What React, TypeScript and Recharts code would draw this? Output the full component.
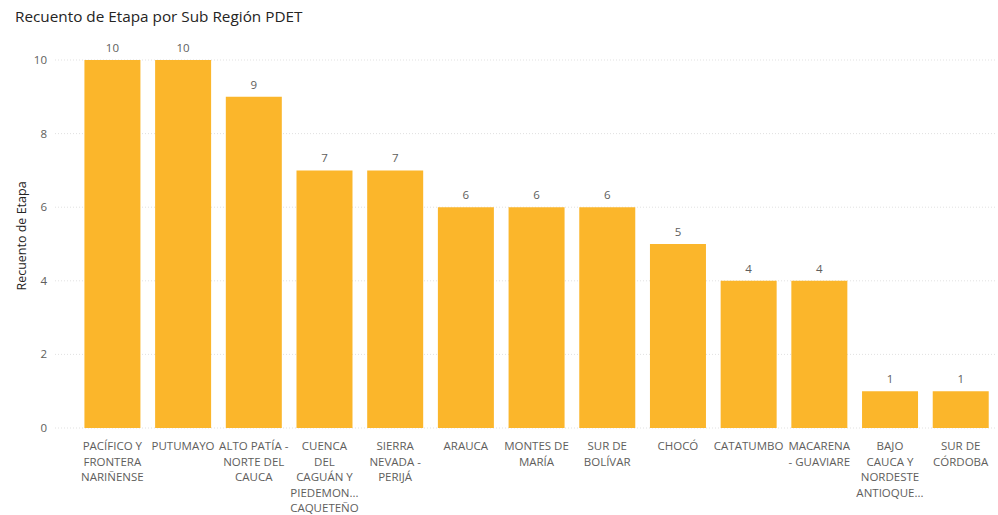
import { BarChart, Bar, XAxis, YAxis, CartesianGrid, LabelList } from 'recharts';

const regions = [
  'PACÍFICO Y FRONTERA NARIÑENSE',
  'PUTUMAYO',
  'ALTO PATÍA - NORTE DEL CAUCA',
  'CUENCA DEL CAGUÁN Y PIEDEMONTE CAQUETEÑO',
  'SIERRA NEVADA - PERIJÁ',
  'ARAUCA',
  'MONTES DE MARÍA',
  'SUR DE BOLÍVAR',
  'CHOCÓ',
  'CATATUMBO',
  'MACARENA - GUAVIARE',
  'BAJO CAUCA Y NORDESTE ANTIOQUEÑO',
  'SUR DE CÓRDOBA',
];

const counts = [10, 10, 9, 7, 7, 6, 6, 6, 5, 4, 4, 1, 1];

// wrapped / truncated as shown under each bar
const tickLines = [
  ['PACÍFICO Y', 'FRONTERA', 'NARIÑENSE'],
  ['PUTUMAYO'],
  ['ALTO PATÍA -', 'NORTE DEL', 'CAUCA'],
  ['CUENCA', 'DEL', 'CAGUÁN Y', 'PIEDEMON...', 'CAQUETEÑO'],
  ['SIERRA', 'NEVADA -', 'PERIJÁ'],
  ['ARAUCA'],
  ['MONTES DE', 'MARÍA'],
  ['SUR DE', 'BOLÍVAR'],
  ['CHOCÓ'],
  ['CATATUMBO'],
  ['MACARENA', '- GUAVIARE'],
  ['BAJO', 'CAUCA Y', 'NORDESTE', 'ANTIOQUE...'],
  ['SUR DE', 'CÓRDOBA'],
];

const yTicks = [0, 2, 4, 6, 8, 10];

const data = regions.map((name, i) => ({ name, value: counts[i] }));

const FONT = '"Open Sans", "Noto Sans", sans-serif';

function WrapTick(props: any) {
  const { x, y, index } = props;
  const lines = tickLines[index] || [];
  return (
    <g transform={`translate(${x},${y})`}>
      {lines.map((l, i) => (
        <text
          key={i}
          x={0}
          y={14 + i * 15.5}
          textAnchor="middle"
          fontSize={11.5}
          fill="#605E5C"
          fontFamily={FONT}
        >
          {l}
        </text>
      ))}
    </g>
  );
}

export default function App() {
  return (
    <div style={{ position: 'absolute', left: 0, top: 0, width: 998, height: 515, background: '#fff' }}>
      <div
        style={{
          position: 'absolute',
          left: 15,
          top: 6,
          fontFamily: FONT,
          fontSize: 15.3,
          color: '#252423',
        }}
      >
        Recuento de Etapa por Sub Región PDET
      </div>
      <BarChart
        width={998}
        height={515}
        data={data}
        margin={{ top: 60, right: 2, left: 0, bottom: 0 }}
        barCategoryGap="10.5%"
      >
        <CartesianGrid vertical={false} stroke="#E1E1E1" strokeDasharray="1 2" />
        <XAxis
          dataKey="name"
          interval={0}
          height={87}
          axisLine={false}
          tickLine={false}
          padding={{ left: 22, right: 0 }}
          tick={<WrapTick />}
        />
        <YAxis
          domain={[0, 10]}
          ticks={yTicks}
          width={55}
          axisLine={false}
          tickLine={false}
          tick={{ fontSize: 11.5, fill: '#605E5C', fontFamily: FONT }}
          tickMargin={2}
          label={{
            value: 'Recuento de Etapa',
            angle: -90,
            position: 'insideLeft',
            offset: 22,
            dy: -8,
            style: { textAnchor: 'middle', fontSize: 12.5, fill: '#252423', fontFamily: FONT },
          }}
        />
        <Bar dataKey="value" fill="#FBB62B" isAnimationActive={false}>
          <LabelList
            dataKey="value"
            position="top"
            offset={8}
            style={{ fontSize: 11.5, fill: '#605E5C', fontFamily: FONT }}
          />
        </Bar>
      </BarChart>
    </div>
  );
}
